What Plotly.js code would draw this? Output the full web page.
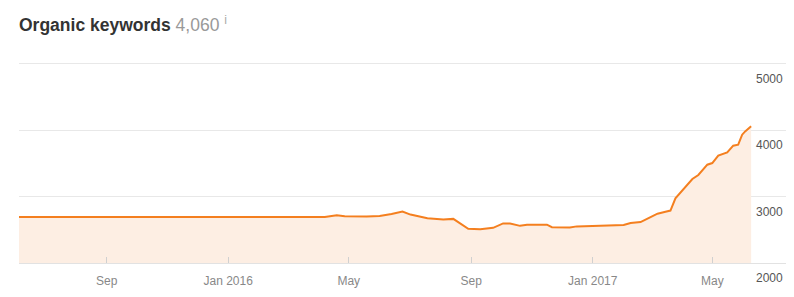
<!DOCTYPE html>
<html>
<head>
<meta charset="utf-8">
<script src="https://cdn.plot.ly/plotly-3.0.1.min.js"></script>
<style>
html,body{margin:0;padding:0;background:#fff;}
#chart{width:794px;height:297px;}
</style>
</head>
<body>
<div id="chart"></div>
<script>
// Organic keywords over time
var dates = [
  "2015-06-05","2015-08-01","2015-10-01","2015-12-01","2016-02-01","2016-04-07",
  "2016-04-19","2016-04-27","2016-05-19","2016-06-01","2016-06-13","2016-06-24",
  "2016-07-02","2016-07-19","2016-08-04","2016-08-14","2016-08-29","2016-09-10",
  "2016-09-23","2016-10-03","2016-10-10","2016-10-20","2016-10-27","2016-11-16",
  "2016-11-21","2016-12-09","2016-12-16","2017-01-11","2017-02-01","2017-02-08",
  "2017-02-18","2017-02-26","2017-03-07","2017-03-15","2017-03-20","2017-03-25",
  "2017-04-02","2017-04-11","2017-04-17","2017-04-26","2017-05-01","2017-05-07",
  "2017-05-16","2017-05-22","2017-05-27","2017-05-31","2017-06-03","2017-06-09"
];
var keywords = [
  2695,2695,2695,2695,2695,2695,
  2720,2705,2700,2710,2740,2775,
  2730,2675,2655,2665,2515,2510,
  2530,2597,2595,2560,2577,2577,
  2540,2537,2552,2562,2573,2603,
  2617,2678,2743,2773,2790,2975,
  3105,3266,3327,3482,3507,3618,
  3668,3769,3784,3934,3984,4060
];
var xTickVals = ["2015-09-01","2016-01-01","2016-05-01","2016-09-01","2017-01-01","2017-05-01"];
var xTickText = ["Sep","Jan 2016","May","Sep","Jan 2017","May"];
var yTickVals = [2000,3000,4000,5000];
var yTickText = ["2000","3000","4000","5000"];
var titleMain = "Organic keywords";
var titleValue = "4,060";

var trace = {
  x: dates,
  y: keywords,
  type: "scatter",
  mode: "lines",
  line: {color: "#f47f1f", width: 2, shape: "linear"},
  fill: "tozeroy",
  fillcolor: "#fdeee3",
  hoverinfo: "skip"
};

var yLabelAnnotations = yTickVals.map(function (v, i) {
  return {
    x: 1, xref: "paper", xanchor: "right", xshift: -1,
    y: v, yref: "y", yanchor: "middle", yshift: -15,
    text: yTickText[i], showarrow: false,
    font: {family: "'Liberation Sans', Arial, sans-serif", size: 12, color: "#555555"}
  };
});

var layout = {
  width: 794,
  height: 297,
  margin: {l: 19, r: 8, t: 62, b: 34},
  paper_bgcolor: "#ffffff",
  plot_bgcolor: "#ffffff",
  showlegend: false,
  font: {family: "'Liberation Sans', Arial, sans-serif", size: 12, color: "#555"},
  title: {
    text: "<b>" + titleMain + "</b> <span style='color:#999999;font-weight:normal'>" + titleValue + "</span>&nbsp;<span style='color:#aaaaaa'><sup>i</sup></span>",
    font: {family: "'Liberation Sans', Arial, sans-serif", size: 17.5, color: "#333333"},
    x: 19/794, xref: "container", xanchor: "left",
    y: 1 - 25/297, yref: "container", yanchor: "middle"
  },
  annotations: yLabelAnnotations,
  xaxis: {
    type: "date",
    range: ["2015-06-05", "2017-07-14"],
    tickmode: "array",
    tickvals: xTickVals,
    ticktext: xTickText,
    ticks: "inside",
    ticklen: 6,
    tickcolor: "#d0d0d0",
    ticklabelstandoff: 7,
    tickfont: {size: 12, color: "#888888"},
    showgrid: false,
    zeroline: false,
    showline: true,
    linecolor: "#e2e2e2",
    linewidth: 1,
    fixedrange: true
  },
  yaxis: {
    range: [2000, 5030],
    side: "right",
    tickmode: "array",
    tickvals: yTickVals,
    showticklabels: false,
    ticks: "",
    showgrid: true,
    gridcolor: "#e8e8e8",
    gridwidth: 1,
    zeroline: false,
    showline: false,
    fixedrange: true
  }
};

Plotly.newPlot("chart", [trace], layout, {staticPlot: true, displayModeBar: false});
</script>
</body>
</html>
